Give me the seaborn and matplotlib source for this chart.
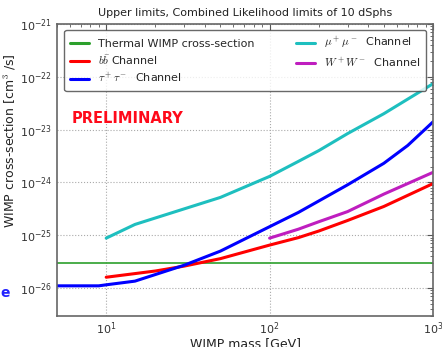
import numpy as np
import pandas as pd
import matplotlib
matplotlib.use("Agg")
import matplotlib.pyplot as plt
import matplotlib.ticker as mticker
import seaborn as sns

thermal_mass = [5, 1000]
thermal_sv = [3e-26, 3e-26]

bb_mass = [10, 20, 30, 50, 100, 150, 200, 300, 500, 1000]
bb_sv = [1.6e-26, 2.1e-26, 2.6e-26, 3.6e-26, 6.5e-26, 9e-26, 1.2e-25, 1.9e-25, 3.5e-25, 9.5e-25]

tau_mass = [5, 9, 10, 15, 20, 30, 50, 100, 150, 300, 500, 700, 1000]
tau_sv = [1.1e-26, 1.1e-26, 1.15e-26, 1.35e-26, 1.8e-26, 2.7e-26, 5e-26, 1.45e-25, 2.7e-25, 9e-25, 2.3e-24, 5e-24, 1.4e-23]

mu_mass = [10, 15, 50, 100, 150, 200, 300, 500, 1000]
mu_sv = [8.8e-26, 1.6e-25, 5.2e-25, 1.3e-24, 2.5e-24, 4e-24, 8.4e-24, 2e-23, 7.4e-23]

ww_mass = [100, 150, 200, 300, 500, 1000]
ww_sv = [8.8e-26, 1.3e-25, 1.8e-25, 2.8e-25, 6e-25, 1.55e-24]

labels = ["Thermal WIMP cross-section", r"$b\bar{b}$ Channel", r"$\tau^+\tau^-$  Channel",
          r"$\mu^+\mu^-$  Channel", r"$W^+W^-$  Channel"]
colors = ["#2ca02c", "#ff0000", "#0000ff", "#1ebfbf", "#bf1ebf"]
widths = [1.2, 2.2, 2.2, 2.2, 2.2]

sns.set_style("white")
plt.rcParams['font.family'] = ['DejaVu Sans']
plt.rcParams['mathtext.fontset'] = 'cm'

frames = []
for lab, m, s in zip(labels, [thermal_mass, bb_mass, tau_mass, mu_mass, ww_mass],
                     [thermal_sv, bb_sv, tau_sv, mu_sv, ww_sv]):
    frames.append(pd.DataFrame({"mass": m, "sv": s, "channel": lab}))
df = pd.concat(frames, ignore_index=True)

fig = plt.figure(figsize=(4.42, 3.47), dpi=100)
ax = fig.add_axes([57/442, 1-316/347, (433-57)/442, (316-24)/347])

for lab, c, w in zip(labels, colors, widths):
    sub = df[df.channel == lab]
    sns.lineplot(data=sub, x="mass", y="sv", ax=ax, color=c, lw=w, label=lab,
                 estimator=None, sort=False)

ax.set_xscale("log")
ax.set_yscale("log")
ax.set_xlim(5, 1000)
ax.set_ylim(10**-26.53, 1e-21)
ax.set_xticks([10, 100, 1000])
ax.set_yticks([1e-26, 1e-25, 1e-24, 1e-23, 1e-22, 1e-21])
ax.xaxis.set_minor_locator(mticker.LogLocator(base=10, subs=np.arange(2, 10), numticks=20))
ax.yaxis.set_minor_locator(mticker.LogLocator(base=10, subs=np.arange(2, 10), numticks=20))
ax.xaxis.set_minor_formatter(mticker.NullFormatter())
ax.yaxis.set_minor_formatter(mticker.NullFormatter())
ax.tick_params(which="both", direction="in", top=True, right=True, colors="#555555")
ax.tick_params(which="major", length=4, labelsize=8, labelcolor="#333333")
ax.tick_params(axis="x", which="major", pad=3)
ax.tick_params(which="minor", length=2)
ax.grid(True, which="major", ls=":", color="#aaaaaa", lw=0.8)
for sp in ax.spines.values():
    sp.set_color("#666666")
    sp.set_linewidth(1.2)

ax.set_xlabel("WIMP mass [GeV]", fontsize=9, color="#222222", labelpad=0)
ax.set_ylabel(r"WIMP cross-section [cm$^3$ /s]", fontsize=9, color="#222222")
ax.yaxis.set_label_coords(-0.105, 0.6)
ax.set_title("Upper limits, Combined Likelihood limits of 10 dSphs", fontsize=8, color="#222222", pad=6)

leg = ax.legend(ncol=2, fontsize=8, loc="upper left", bbox_to_anchor=(0.005, 1.0),
                frameon=True, fancybox=True, edgecolor="#444444", handlelength=1.7,
                columnspacing=3.8, borderpad=0.5, labelspacing=0.4)
leg.get_frame().set_linewidth(1.0)
for h in leg.get_lines():
    h.set_linewidth(2.2)

ax.text(0.04, 0.66, "PRELIMINARY", transform=ax.transAxes, color="#ff0a1a",
        fontsize=10.5, fontweight="bold")
fig.text(0.0, 1-293/347, "e", color="#2222ff", fontsize=10, fontweight="bold", va="center")

fig.savefig("out.png", dpi=100)
